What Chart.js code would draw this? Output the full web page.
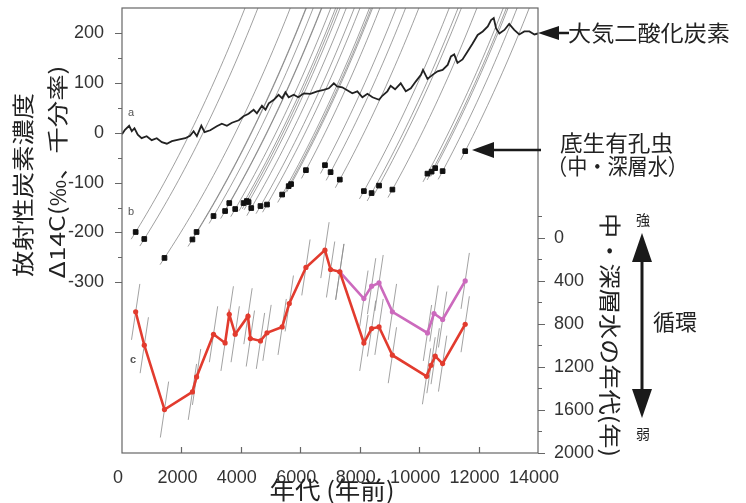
<!DOCTYPE html>
<html>
<head>
<meta charset="utf-8">
<script src="https://cdn.jsdelivr.net/npm/chart.js@4"></script>
<style>
  body { margin: 0; background: #fff; }
  #wrap { width: 746px; height: 503px; }
</style>
</head>
<body>
<div id="wrap"><canvas id="c14Chart" width="746" height="503"></canvas></div>
<script>
// a: atmospheric D14C (permil) vs calendar age (yr BP)
const atmYears = [0, 100, 240, 330, 420, 530, 660, 830, 1000, 1170, 1340, 1510, 1680, 1900, 2130, 2290, 2410, 2520, 2670,
    2780, 2970, 3190, 3360, 3530, 3700, 3930, 4090, 4260, 4430, 4540, 4710, 4830, 4940, 5110, 5270, 5390, 5500, 5610,
    5780, 5930, 6120, 6340, 6570, 6790, 6960, 7130, 7240, 7410, 7580, 7750, 7920, 8090, 8260, 8430, 8650, 8760, 8930,
    9040, 9190, 9380, 9550, 9720, 9890, 10060, 10130, 10280, 10450, 10620, 10790, 10960, 11070, 11180, 11290, 11460,
    11630, 11800, 11970, 12140, 12310, 12420, 12510, 12590, 12700, 12870, 13030, 13200, 13370, 13540, 13710, 13880, 14000];
const atmD14C = [-3, 6, 14, 3, 9, -4, -11, -7, -15, -11, -19, -22, -17, -14, -11, -6, 3, -7, 14,
    1, 5, 13, 18, 14, 20, 25, 33, 38, 46, 39, 54, 46, 59, 66, 76, 69, 81, 71,
    76, 71, 79, 78, 83, 86, 89, 99, 93, 91, 85, 79, 83, 71, 78, 71, 66, 74, 83,
    94, 87, 99, 83, 89, 103, 116, 126, 108, 116, 123, 126, 136, 153, 157, 140, 147,
    163, 179, 196, 203, 213, 226, 230, 209, 199, 206, 218, 206, 197, 203, 203, 197, 199];

// b: benthic foraminifera D14C (permil)
const foramYears = [460, 750, 1430, 2370, 2510, 3080, 3470, 3610, 3810, 4090, 4200, 4260, 4350, 4660, 4880, 5390,
    5610, 5690, 6190, 6830, 7020, 7330, 8140, 8400, 8650, 9100, 10280, 10420, 10540, 10790, 11550];
const foramD14C = [-199, -213, -251, -214, -199, -167, -157, -141, -153, -141, -137, -139, -151, -147, -144, -124,
    -107, -103, -75, -65, -79, -94, -117, -121, -106, -114, -82, -78, -71, -77, -37];

// c: age of intermediate/deep water (yr), two reconstructions
const redYears = [460, 750, 1430, 2370, 2510, 3080, 3470, 3610, 3810, 4240, 4320, 4660, 4880, 5390, 5630, 6190,
    6830, 7020, 7330, 8140, 8400, 8650, 9100, 10250, 10400, 10540, 10790, 11550];
const redAges = [688, 998, 1596, 1432, 1293, 896, 977, 710, 896, 728, 936, 958, 883, 828, 610, 275,
    114, 294, 316, 977, 843, 828, 1091, 1287, 1184, 1100, 1169, 803];
const pinkYears = [7330, 8140, 8400, 8650, 9100, 10280, 10500, 10790, 11550];
const pinkAges = [316, 564, 449, 419, 688, 884, 703, 759, 400];

const xTicks = [0, 2000, 4000, 6000, 8000, 10000, 12000, 14000];
const leftTicks = [-300, -200, -100, 0, 100, 200];
const rightTicks = [0, 400, 800, 1200, 1600, 2000];

const meanLife = 8267; // 14C mean life, yr

function pts(xs, ys) {
    return xs.map(function (x, i) { return { x: x, y: ys[i] }; });
}

// constant-14C-age trajectories through each foram sample
function isoLine(t0, d0) {
    const out = [];
    for (let t = t0 - 150; t <= t0 + 4500; t += 100) {
        const d = ((1 + d0 / 1000) * Math.exp((t - t0) / meanLife) - 1) * 1000;
        out.push({ x: t, y: d });
        if (d > 260) break;
    }
    return out;
}

const datasets = [];
datasets.push({ data: pts(redYears, redAges), yAxisID: 'y2', showLine: true, borderColor: '#e23b2e',
    backgroundColor: '#e23b2e', borderWidth: 2.6, pointRadius: 2.6, pointBorderWidth: 0, order: 0 });
datasets.push({ data: pts(pinkYears, pinkAges), yAxisID: 'y2', showLine: true, borderColor: '#cc6abd',
    backgroundColor: '#cc6abd', borderWidth: 2.6, pointRadius: 2.6, pointBorderWidth: 0, order: 1 });
datasets.push({ data: pts(foramYears, foramD14C), yAxisID: 'y', showLine: false, pointStyle: 'rect',
    backgroundColor: '#111', borderColor: '#111', pointRadius: 3.3, order: 2 });
datasets.push({ data: pts(atmYears, atmD14C), yAxisID: 'y', showLine: true, borderColor: '#222',
    borderWidth: 1.8, pointRadius: 0, order: 3 });

foramYears.forEach(function (t, i) {
    datasets.push({ data: isoLine(t, foramD14C[i]), yAxisID: 'y', showLine: true, borderColor: '#777',
        borderWidth: 0.7, pointRadius: 0, order: 5 });
});
// tilted error segments through the water-age points
redYears.concat(pinkYears).forEach(function (t, i) {
    const a = i < redYears.length ? redAges[i] : pinkAges[i - redYears.length];
    datasets.push({ data: [{ x: t - 140, y: a + 260 }, { x: t + 140, y: a - 260 }], yAxisID: 'y2',
        showLine: true, borderColor: '#8a8a8a', borderWidth: 0.8, pointRadius: 0, order: 4 });
});

const cjk = '"Noto Sans CJK JP", sans-serif';

function txt(ctx, s, x, y, font, opts) {
    opts = opts || {};
    ctx.save();
    ctx.translate(x, y);
    if (opts.rot) ctx.rotate(opts.rot);
    ctx.font = font;
    ctx.fillStyle = opts.color || '#222';
    ctx.textAlign = opts.align || 'left';
    ctx.textBaseline = 'middle';
    if (opts.w) {
        const m = ctx.measureText(s).width;
        ctx.scale(opts.w / m, 1);
    }
    ctx.fillText(s, 0, 0);
    ctx.restore();
}

function tri(ctx, x1, y1, x2, y2, x3, y3) {
    ctx.beginPath();
    ctx.moveTo(x1, y1);
    ctx.lineTo(x2, y2);
    ctx.lineTo(x3, y3);
    ctx.closePath();
    ctx.fill();
}

const decor = {
    id: 'decor',
    afterDraw: function (chart) {
        const ctx = chart.ctx;
        const a = chart.chartArea;
        const sx = chart.scales.x, sy = chart.scales.y, sy2 = chart.scales.y2;

        // frame
        ctx.save();
        ctx.strokeStyle = '#666';
        ctx.lineWidth = 1.2;
        ctx.strokeRect(a.left, a.top, a.right - a.left, a.bottom - a.top);

        // ticks
        ctx.beginPath();
        for (let v = -300; v <= 200; v += 50) {
            const y = Math.round(sy.getPixelForValue(v)) + 0.5;
            ctx.moveTo(a.left, y);
            ctx.lineTo(a.left - (v % 100 === 0 ? 7 : 4), y);
        }
        for (let v = -200; v <= 2000; v += 200) {
            const y = Math.round(sy2.getPixelForValue(v)) + 0.5;
            ctx.moveTo(a.right, y);
            ctx.lineTo(a.right + (v % 400 === 0 && v >= 0 ? 7 : 4), y);
        }
        xTicks.slice(1, -1).forEach(function (v) {
            const x = Math.round(sx.getPixelForValue(v)) + 0.5;
            ctx.moveTo(x, a.bottom);
            ctx.lineTo(x, a.bottom - 6);
        });
        ctx.stroke();
        ctx.restore();

        // panel letters
        txt(ctx, 'a', 131, 113, '11px "Liberation Sans"', { color: '#555', align: 'center' });
        txt(ctx, 'b', 131, 212, '11px "Liberation Sans"', { color: '#555', align: 'center' });
        txt(ctx, 'c', 133, 360, 'bold 11px "Liberation Sans"', { color: '#555', align: 'center' });

        // axis titles
        txt(ctx, '放射性炭素濃度', 23, 185, '22px ' + cjk, { rot: -Math.PI / 2, align: 'center', w: 184 });
        txt(ctx, 'Δ14C(‰、千分率)', 57, 172, '21px ' + cjk, { rot: -Math.PI / 2, align: 'center', w: 213 });
        txt(ctx, '年代 (年前)', 332, 490, '24px ' + cjk, { align: 'center', w: 125 });
        txt(ctx, '中・深層水の年代(年)', 610, 335, '22px ' + cjk, { rot: Math.PI / 2, align: 'center', w: 244 });

        // annotations
        ctx.save();
        ctx.fillStyle = '#1a1a1a';
        ctx.strokeStyle = '#1a1a1a';
        ctx.lineWidth = 2.5;
        ctx.beginPath();
        ctx.moveTo(555, 33); ctx.lineTo(569, 33);
        ctx.moveTo(490, 150); ctx.lineTo(541, 150);
        ctx.stroke();
        tri(ctx, 538, 33, 559, 26, 559, 40);
        tri(ctx, 472, 150, 494, 142, 494, 158);
        ctx.lineWidth = 3;
        ctx.beginPath();
        ctx.moveTo(642, 255); ctx.lineTo(642, 396);
        ctx.stroke();
        tri(ctx, 642, 233, 632, 262, 652, 262);
        tri(ctx, 642, 418, 632, 389, 652, 389);
        ctx.restore();

        txt(ctx, '大気二酸化炭素', 568, 33, '22px ' + cjk, { w: 162 });
        txt(ctx, '底生有孔虫', 560, 143, '22px ' + cjk, { w: 113 });
        txt(ctx, '（中・深層水）', 547, 166, '22px ' + cjk, { w: 141 });
        txt(ctx, '強', 643, 220, '14px ' + cjk, { align: 'center' });
        txt(ctx, '弱', 643, 434, '14px ' + cjk, { align: 'center' });
        txt(ctx, '循環', 653, 322, '22px ' + cjk, { w: 44 });
    }
};

const tickFont = { family: '"Liberation Sans", Arial, sans-serif', size: 18 };
const plain = function (v) { return String(v); };

new Chart(document.getElementById('c14Chart').getContext('2d'), {
    type: 'scatter',
    data: { datasets: datasets },
    options: {
        responsive: false,
        animation: false,
        devicePixelRatio: 1,
        events: [],
        layout: { padding: { top: 8, left: 0, right: 0, bottom: 0 } },
        plugins: { legend: { display: false }, tooltip: { enabled: false } },
        scales: {
            x: {
                type: 'linear', position: 'bottom', min: 0, max: 14000,
                grid: { display: false }, border: { display: false },
                afterBuildTicks: function (s) { s.ticks = xTicks.map(function (v) { return { value: v }; }); },
                afterFit: function (s) { s.height = 50; s.paddingLeft = 0; s.paddingRight = 0; },
                ticks: { autoSkip: false, maxRotation: 0, padding: 6, labelOffset: -4, color: '#333', font: tickFont, callback: plain }
            },
            y: {
                type: 'linear', position: 'left', min: -642, max: 250,
                grid: { display: false }, border: { display: false },
                afterBuildTicks: function (s) { s.ticks = leftTicks.map(function (v) { return { value: v }; }); },
                afterFit: function (s) { s.width = 122; s.paddingTop = 0; s.paddingBottom = 0; },
                ticks: { padding: 10, color: '#333', font: tickFont, callback: plain }
            },
            y2: {
                type: 'linear', position: 'right', reverse: true, min: -2137, max: 2000,
                grid: { display: false }, border: { display: false },
                afterBuildTicks: function (s) { s.ticks = rightTicks.map(function (v) { return { value: v }; }); },
                afterFit: function (s) { s.width = 208; s.paddingTop = 0; s.paddingBottom = 0; },
                ticks: { padding: 8, color: '#333', font: tickFont, callback: plain }
            }
        }
    },
    plugins: [decor]
});
</script>
</body>
</html>
